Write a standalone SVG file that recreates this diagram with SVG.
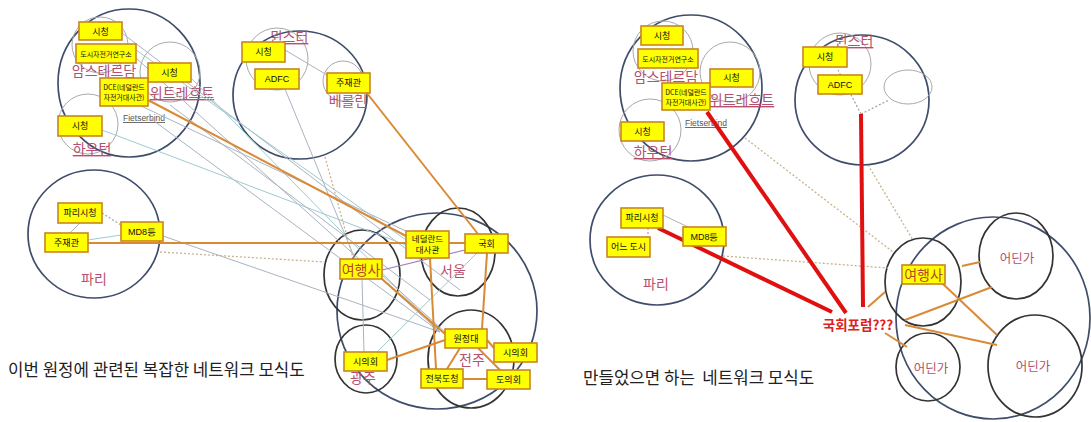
<svg xmlns="http://www.w3.org/2000/svg" width="1091" height="422" viewBox="0 0 1091 422">
<style>
text{font-family:"Noto Sans CJK KR","Noto Sans",sans-serif}
.box{fill:#ffff00;stroke:#c8861e;stroke-width:1.6}
.bt{font-size:9px;fill:#111;text-anchor:middle}
.sm{font-size:7px;fill:#111;text-anchor:middle}
.lat{font-family:"Liberation Sans",sans-serif}
.city{font-size:14px;fill:#b5506e;text-anchor:middle}
.ul{text-decoration:underline}
.fb{font-family:"Liberation Sans",sans-serif;font-size:8.5px;fill:#555;text-anchor:middle;text-decoration:underline}
.gc{fill:none;stroke:#a9a9a9;stroke-width:1}
.dc{fill:none;stroke:#3f4d6b;stroke-width:1.7}
.bc{fill:none;stroke:#333;stroke-width:1.7}
.o{stroke:#d98a35;stroke-width:2;fill:none}
.g{stroke:#aab3c0;stroke-width:1;fill:none}
.t{stroke:#9dcbcf;stroke-width:1;fill:none}
.dot{stroke:#c8b48a;stroke-width:1.3;stroke-dasharray:2 2;fill:none}
.gd{stroke:#a0a0a0;stroke-width:1.2;stroke-dasharray:2 2;fill:none}
.r{stroke:#e01010;stroke-width:4;fill:none}
.title{font-size:16.8px;fill:#222}
</style>
<rect width="1091" height="422" fill="#ffffff"/>

<!-- ===== LEFT DIAGRAM clusters ===== -->
<g id="cl-amsterdam">
  <ellipse class="dc" cx="129" cy="83" rx="71" ry="74"/>
  <circle class="gc" cx="100" cy="45" r="28"/>
  <text class="city" x="104" y="76">암스테르담</text>
</g>
<g id="cl-utrecht">
  <circle class="gc" cx="170" cy="72" r="30"/>
  <text class="city ul" x="182" y="98">위트레흐트</text>
  <text class="fb" x="144" y="121">Fietserbind</text>
</g>
<g id="cl-houten">
  <circle class="gc" cx="88" cy="124" r="30"/>
  <text class="city ul" x="92" y="154">하우턴</text>
</g>
<g id="cl-germany">
  <ellipse class="dc" cx="300" cy="95" rx="67" ry="64"/>
  <circle class="gc" cx="277" cy="59" r="31"/>
  <text class="city ul" x="289" y="42">뮌스터</text>
  <circle class="gc" cx="343" cy="81" r="20"/>
  <text class="city" x="348" y="106">베를린</text>
</g>
<g id="cl-paris">
  <ellipse class="dc" cx="94" cy="234" rx="66" ry="64"/>
  <text class="city" x="94" y="284">파리</text>
</g>
<g id="cl-korea">
  <ellipse class="dc" cx="437" cy="311" rx="100" ry="98"/>
  <ellipse class="bc" cx="458" cy="252" rx="37" ry="44"/>
  <text class="city" x="453" y="276">서울</text>
  <ellipse class="bc" cx="362" cy="275" rx="38" ry="45"/>
  <ellipse class="bc" cx="366" cy="359" rx="31" ry="34"/>
  <text class="city" x="363" y="383">광주</text>
  <ellipse class="bc" cx="471" cy="359" rx="43" ry="49"/>
  <text class="city" x="472" y="365">전주</text>
</g>

<!-- ===== RIGHT DIAGRAM clusters ===== -->
<g id="cl2-amsterdam">
  <ellipse class="dc" cx="691" cy="88" rx="71" ry="73"/>
  <circle class="gc" cx="663" cy="51" r="30"/>
  <text class="city" x="666" y="82">암스테르담</text>
  <circle class="gc" cx="730" cy="72" r="30"/>
  <text class="city ul" x="742" y="105">위트레흐트</text>
  <text class="fb" x="706" y="126">Fietserbind</text>
  <circle class="gc" cx="650" cy="130" r="31"/>
  <text class="city ul" x="653" y="157">하우턴</text>
</g>
<g id="cl2-germany">
  <ellipse class="dc" cx="862" cy="100" rx="67" ry="65"/>
  <circle class="gc" cx="840" cy="64" r="31"/>
  <text class="city ul" x="854" y="46">뮌스터</text>
  <ellipse class="gc" cx="908" cy="87" rx="24" ry="17"/>
</g>
<g id="cl2-paris">
  <ellipse class="dc" cx="657" cy="240" rx="67" ry="65"/>
  <text class="city" x="656" y="289">파리</text>
</g>
<g id="cl2-korea">
  <ellipse class="dc" cx="993" cy="318" rx="97" ry="101"/>
  <ellipse class="bc" cx="923" cy="282" rx="38" ry="44"/>
  <ellipse class="bc" cx="1016" cy="256" rx="37" ry="43"/>
  <text class="city" x="1017" y="263" style="font-size:12.5px">어딘가</text>
  <ellipse class="bc" cx="928" cy="367" rx="32" ry="34"/>
  <text class="city" x="931" y="373" style="font-size:12.5px">어딘가</text>
  <ellipse class="bc" cx="1035" cy="366" rx="47" ry="51"/>
  <text class="city" x="1033" y="371" style="font-size:12.5px">어딘가</text>
</g>

<!-- ===== CONNECTORS ===== -->
<g id="connectors">
  <!-- left thin lines -->
  <line class="g" x1="122" y1="33" x2="460" y2="290"/>
  <line class="g" x1="136" y1="58" x2="440" y2="332"/>
  <line class="t" x1="191" y1="78" x2="440" y2="332"/>
  <line class="g" x1="150" y1="118" x2="440" y2="332"/>
  <line class="t" x1="102" y1="130" x2="406" y2="245"/>
  <line class="g" x1="120" y1="96" x2="410" y2="233"/>
  <line class="g" x1="170" y1="105" x2="430" y2="300"/>
  <line class="t" x1="136" y1="50" x2="406" y2="240"/>
  <line class="g" x1="285" y1="50" x2="327" y2="75"/>
  <line class="g" x1="285" y1="89" x2="355" y2="259"/>
  <line class="g" x1="163" y1="236" x2="440" y2="332"/>
  <line class="t" x1="377" y1="352" x2="477" y2="253"/>
  <line class="g" x1="362" y1="279" x2="364" y2="352"/>
  <line class="g" x1="382" y1="275" x2="445" y2="332"/>
  <line class="g" x1="80" y1="223" x2="70" y2="233"/>
  <line class="gd" x1="102" y1="213" x2="121" y2="225"/>
  <line class="t" x1="88" y1="240" x2="121" y2="235"/>
  <line class="dot" x1="325" y1="157" x2="353" y2="258"/>
  <line class="dot" x1="160" y1="252" x2="325" y2="262"/>
  <line stroke="#9b7fc0" stroke-width="1.2" x1="382" y1="270" x2="465" y2="250"/>
  <!-- left orange -->
  <line class="o" x1="148" y1="100" x2="406" y2="236"/>
  <line class="o" x1="88" y1="243" x2="465" y2="243"/>
  <line class="o" x1="366" y1="92" x2="478" y2="234"/>
  <line class="o" x1="382" y1="279" x2="445" y2="334"/>
  <line class="o" x1="430" y1="258" x2="436" y2="369"/>
  <line class="o" x1="487" y1="253" x2="482" y2="329"/>
  <line class="o" x1="445" y1="340" x2="387" y2="360"/>
  <line class="o" x1="460" y1="348" x2="447" y2="369"/>
  <line class="o" x1="478" y1="348" x2="500" y2="370"/>
  <line class="o" x1="487" y1="340" x2="494" y2="348"/>
  <line class="o" x1="463" y1="379" x2="487" y2="379"/>
  <!-- right thin -->
  <line class="g" x1="663" y1="215" x2="690" y2="228"/>
  <line class="gd" x1="648" y1="228" x2="648" y2="237"/>
  <line class="dot" x1="723" y1="256" x2="888" y2="268"/>
  <line class="dot" x1="745" y1="138" x2="893" y2="252"/>
  <line class="dot" x1="868" y1="165" x2="913" y2="240"/>
  <line class="gd" x1="861" y1="114" x2="838" y2="70"/>
  <line class="gd" x1="861" y1="114" x2="889" y2="100"/>
  <!-- right orange -->
  <line class="o" x1="868" y1="307" x2="885" y2="292"/>
  <line class="o" x1="905" y1="320" x2="992" y2="287"/>
  <line class="o" x1="905" y1="325" x2="997" y2="345"/>
  <line class="o" x1="885" y1="333" x2="907" y2="347"/>
  <line class="o" x1="962" y1="266" x2="980" y2="262"/>
  <line class="o" x1="943" y1="284" x2="997" y2="335"/>
  <!-- right red -->
  <line class="r" x1="707" y1="112" x2="846" y2="313"/>
  <line class="r" x1="861" y1="114" x2="863" y2="307"/>
  <line class="r" x1="658" y1="228" x2="832" y2="312"/>
</g>

<!-- ===== LEFT NODES ===== -->
<g id="n-ams-cityhall"><rect class="box" x="79" y="22" width="43" height="18"/><text class="bt" x="100.5" y="34.5">시청</text></g>
<g id="n-ams-institute"><rect class="box" x="76" y="44" width="60" height="19"/><text class="sm" x="106" y="56.5">도시자전거연구소</text></g>
<g id="n-utr-cityhall"><rect class="box" x="148" y="63" width="43" height="19"/><text class="bt" x="169.5" y="75.5">시청</text></g>
<g id="n-dce"><rect class="box" x="100" y="78" width="48" height="28"/><text class="sm" x="124" y="90">DCE(네덜란드</text><text class="sm" x="124" y="100">자전거대사관)</text></g>
<g id="n-hou-cityhall"><rect class="box" x="58" y="116" width="44" height="20"/><text class="bt" x="80" y="129">시청</text></g>
<g id="n-mun-cityhall"><rect class="box" x="242" y="42" width="43" height="20"/><text class="bt" x="263.5" y="55">시청</text></g>
<g id="n-adfc"><rect class="box" x="255" y="69" width="44" height="20"/><text class="bt lat" x="277" y="82">ADFC</text></g>
<g id="n-ber-attache"><rect class="box" x="327" y="73" width="43" height="20"/><text class="bt" x="348.5" y="86">주재관</text></g>
<g id="n-par-cityhall"><rect class="box" x="58" y="203" width="44" height="20"/><text class="bt" x="80" y="216">파리시청</text></g>
<g id="n-md8"><rect class="box" x="121" y="222" width="42" height="19"/><text class="bt lat" x="142" y="234.5">MD8등</text></g>
<g id="n-par-attache"><rect class="box" x="45" y="233" width="43" height="19"/><text class="bt" x="66.5" y="245.5">주재관</text></g>
<g id="n-embassy"><rect class="box" x="406" y="231" width="43" height="27"/><text class="bt" x="427.5" y="242" style="font-size:8.5px">네덜란드</text><text class="bt" x="427.5" y="253" style="font-size:8.5px">대사관</text></g>
<g id="n-assembly"><rect class="box" x="465" y="234" width="43" height="19"/><text class="bt" x="486.5" y="246.5">국회</text></g>
<g id="n-agency"><rect class="box" x="340" y="259" width="42" height="20"/><text class="bt" x="361" y="274.5" style="font-size:14px;fill:#b8452f">여행사</text></g>
<g id="n-team"><rect class="box" x="445" y="329" width="42" height="19"/><text class="bt" x="466" y="341.5">원정대</text></g>
<g id="n-jj-council"><rect class="box" x="494" y="343" width="43" height="19"/><text class="bt" x="515.5" y="355.5">시의회</text></g>
<g id="n-gj-council"><rect class="box" x="344" y="352" width="43" height="19"/><text class="bt" x="365.5" y="364.5">시의회</text></g>
<g id="n-jb-gov"><rect class="box" x="421" y="369" width="42" height="19"/><text class="bt" x="442" y="381.5">전북도청</text></g>
<g id="n-jb-council"><rect class="box" x="487" y="370" width="43" height="19"/><text class="bt" x="508.5" y="382.5">도의회</text></g>

<!-- ===== RIGHT NODES ===== -->
<g id="m-ams-cityhall"><rect class="box" x="641" y="26" width="42" height="19"/><text class="bt" x="662" y="38.5">시청</text></g>
<g id="m-ams-institute"><rect class="box" x="638" y="49" width="60" height="19"/><text class="sm" x="668" y="61.5">도시자전거연구소</text></g>
<g id="m-utr-cityhall"><rect class="box" x="710" y="69" width="43" height="18"/><text class="bt" x="731.5" y="81">시청</text></g>
<g id="m-dce"><rect class="box" x="662" y="83" width="48" height="27"/><text class="sm" x="686" y="95">DCE(네덜란드</text><text class="sm" x="686" y="105">자전거대사관)</text></g>
<g id="m-hou-cityhall"><rect class="box" x="621" y="122" width="43" height="19"/><text class="bt" x="642.5" y="134.5">시청</text></g>
<g id="m-mun-cityhall"><rect class="box" x="803" y="47" width="44" height="20"/><text class="bt" x="825" y="60">시청</text></g>
<g id="m-adfc"><rect class="box" x="818" y="75" width="44" height="19"/><text class="bt lat" x="840" y="87.5">ADFC</text></g>
<g id="m-par-cityhall"><rect class="box" x="621" y="208" width="42" height="20"/><text class="bt" x="642" y="221">파리시청</text></g>
<g id="m-md8"><rect class="box" x="683" y="227" width="43" height="19"/><text class="bt lat" x="704.5" y="239.5">MD8등</text></g>
<g id="m-somecity"><rect class="box" x="607" y="237" width="43" height="20"/><text class="bt" x="628.5" y="250">어느 도시</text></g>
<g id="m-agency"><rect class="box" x="902" y="265" width="43" height="19"/><text class="bt" x="923.5" y="280" style="font-size:14px;fill:#b8452f">여행사</text></g>
<g id="m-forum"><text x="858" y="330" text-anchor="middle" style="font-size:13.5px;font-weight:bold;fill:#e02020">국회포럼???</text></g>

<!-- titles -->
<text class="title" x="8" y="376">이번 원정에 관련된 복잡한 네트워크 모식도</text>
<text class="title" x="583" y="384" xml:space="preserve">만들었으면 하는  네트워크 모식도</text>
</svg>
